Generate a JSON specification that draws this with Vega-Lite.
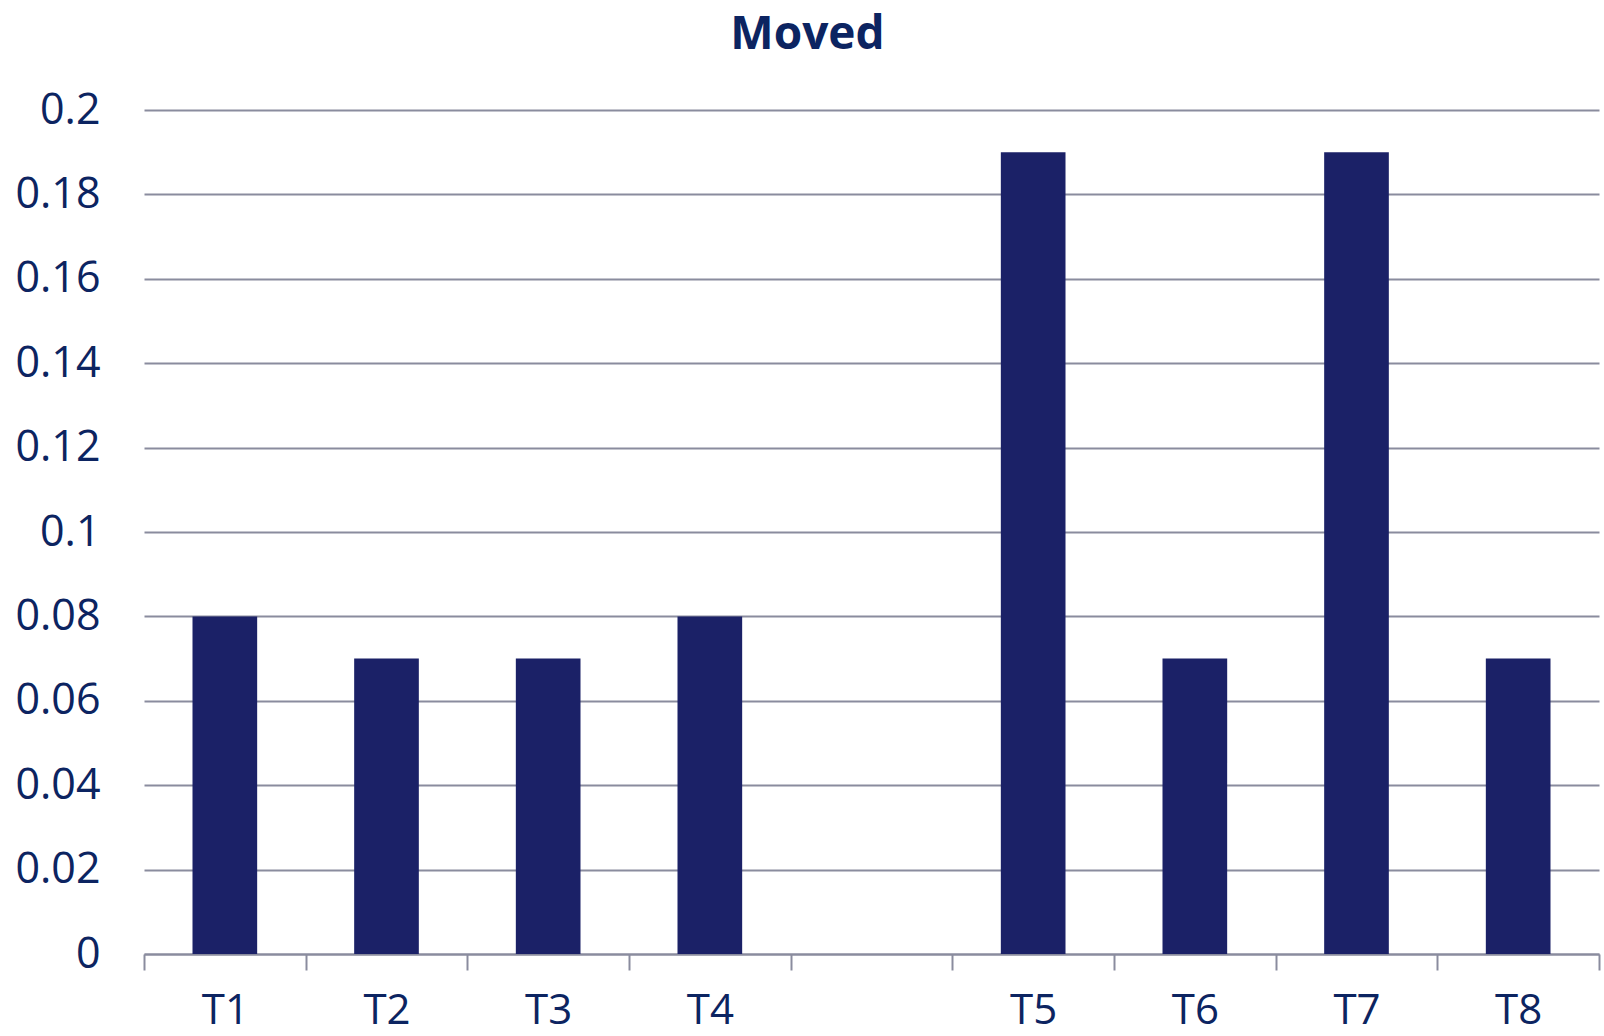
{
  "$schema": "https://vega.github.io/schema/vega-lite/v6.json",
  "width": 1455,
  "height": 844,
  "autosize": {"type": "none"},
  "padding": {"left": 144, "top": 110, "right": 5, "bottom": 82},
  "background": "white",
  "title": {
    "text": "Moved",
    "font": "Open Sans",
    "fontSize": 46,
    "fontWeight": "bold",
    "color": "#0c2461",
    "anchor": "middle",
    "frame": "bounds",
    "offset": 30
  },
  "data": {
    "values": [
      {"cat": "T1", "value": 0.08},
      {"cat": "T2", "value": 0.07},
      {"cat": "T3", "value": 0.07},
      {"cat": "T4", "value": 0.08},
      {"cat": "T5", "value": 0.19},
      {"cat": "T6", "value": 0.07},
      {"cat": "T7", "value": 0.19},
      {"cat": "T8", "value": 0.07}
    ]
  },
  "mark": {"type": "bar", "color": "#1b2167", "width": {"band": 0.4}},
  "encoding": {
    "x": {
      "field": "cat",
      "type": "nominal",
      "scale": {
        "domain": ["T1", "T2", "T3", "T4", " ", "T5", "T6", "T7", "T8"],
        "paddingInner": 0,
        "paddingOuter": 0
      },
      "axis": {
        "title": null,
        "labelAngle": 0,
        "tickBand": "extent",
        "domainColor": "#8a8c9e",
        "domainWidth": 2,
        "tickColor": "#8a8c9e",
        "tickWidth": 2,
        "tickSize": 16,
        "labelFont": "Open Sans",
        "labelFontSize": 42,
        "labelColor": "#0c2461",
        "labelPadding": 20,
        "grid": false
      }
    },
    "y": {
      "field": "value",
      "type": "quantitative",
      "scale": {"domain": [0, 0.2], "nice": false},
      "axis": {
        "title": null,
        "values": [0, 0.02, 0.04, 0.06, 0.08, 0.1, 0.12, 0.14, 0.16, 0.18, 0.2],
        "format": ".2~f",
        "domain": false,
        "ticks": false,
        "labelPadding": 44,
        "labelFont": "Open Sans",
        "labelFontSize": 43,
        "labelColor": "#0c2461",
        "grid": true,
        "gridColor": "#8a8c9e",
        "gridWidth": 2
      }
    }
  },
  "config": {"view": {"stroke": null}}
}
